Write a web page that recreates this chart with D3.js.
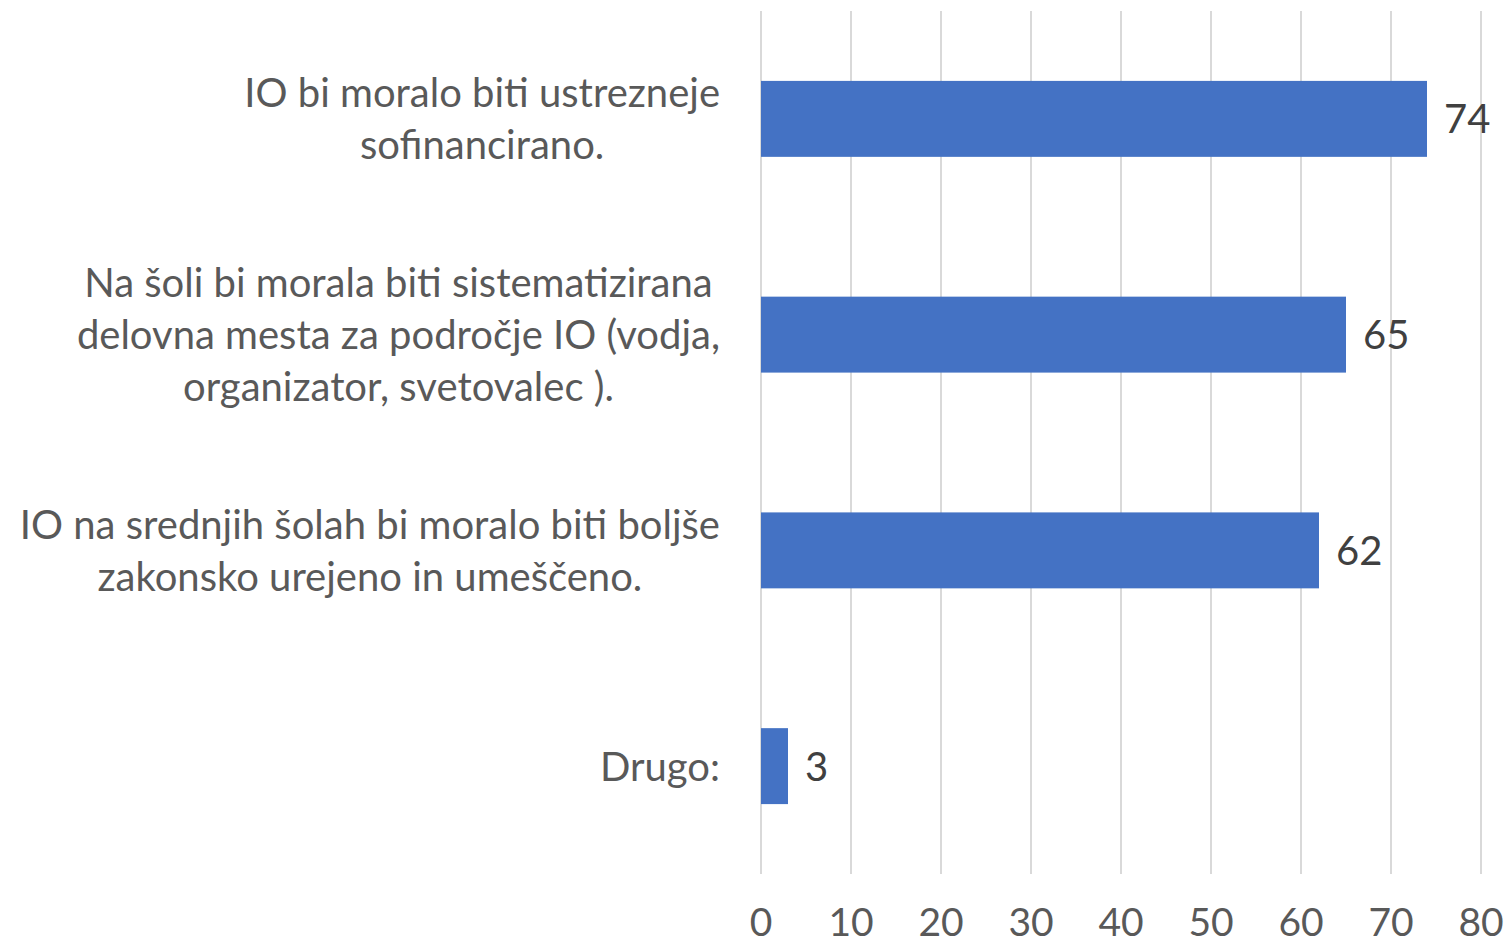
<!DOCTYPE html>
<html>
<head>
<meta charset="utf-8">
<script src="https://cdn.jsdelivr.net/npm/d3@7"></script>
<style>
  body { margin: 0; background: #fff; }
  text { font-family: Lato, 'Liberation Sans', sans-serif; }
</style>
</head>
<body>
<div id="chart"></div>
<script>
// Data
var categories = [
  ['IO bi moralo biti ustrezneje', 'sofinancirano.'],
  ['Na šoli bi morala biti sistematizirana', 'delovna mesta za področje IO (vodja,', 'organizator, svetovalec ).'],
  ['IO na srednjih šolah bi moralo biti boljše', 'zakonsko urejeno in umeščeno.'],
  ['Drugo:']
];
var values = [74, 65, 62, 3];
var xTicks = [0, 10, 20, 30, 40, 50, 60, 70, 80];

// SVG
var w = 1507;
var h = 945;
var svg = d3.select('#chart').append('svg').attr('width', w).attr('height', h);

// Scales
var xScale = d3.scaleLinear().domain([0, 80]).range([761, 1481]);
var yScale = d3.scaleBand()
  .domain(d3.range(categories.length))
  .range([11, 874])
  .paddingInner(0.648)
  .paddingOuter(0.324);

// Gridlines
svg.append('g')
  .selectAll('line')
  .data(xTicks)
  .enter()
  .append('line')
  .attr('x1', (d) => xScale(d))
  .attr('x2', (d) => xScale(d))
  .attr('y1', yScale.range()[0])
  .attr('y2', yScale.range()[1])
  .style('stroke', '#d9d9d9')
  .style('stroke-width', 2);

// Tick labels
svg.append('g')
  .selectAll('text')
  .data(xTicks)
  .enter()
  .append('text')
  .attr('x', (d) => xScale(d))
  .attr('y', 936)
  .attr('text-anchor', 'middle')
  .style('font-size', '39px')
  .style('fill', '#595959')
  .text((d) => d);

// Bars
svg.append('g')
  .selectAll('rect')
  .data(values)
  .enter()
  .append('rect')
  .attr('x', xScale(0))
  .attr('y', (d, i) => yScale(i))
  .attr('width', (d) => xScale(d) - xScale(0))
  .attr('height', yScale.bandwidth())
  .style('fill', '#4472c4');

// Data labels
svg.append('g')
  .selectAll('text')
  .data(values)
  .enter()
  .append('text')
  .attr('x', (d) => xScale(d) + 17)
  .attr('y', (d, i) => yScale(i) + yScale.bandwidth() / 2 + 14.5)
  .style('font-size', '40px')
  .style('fill', '#404040')
  .text((d) => d);

// Category labels - centered block, right edge at 720
var lineGap = 52;
categories.forEach((lines, i) => {
  var g = svg.append('g');
  var cy = yScale(i) + yScale.bandwidth() / 2;
  var texts = lines.map((line, j) => {
    return g.append('text')
      .attr('y', cy + (j - (lines.length - 1) / 2) * lineGap + 14.5)
      .attr('text-anchor', 'middle')
      .style('font-size', '40px')
      .style('fill', '#595959')
      .text(line);
  });
  var maxW = d3.max(texts, (t) => t.node().getComputedTextLength());
  texts.forEach((t) => t.attr('x', 720 - maxW / 2));
});
</script>
</body>
</html>
